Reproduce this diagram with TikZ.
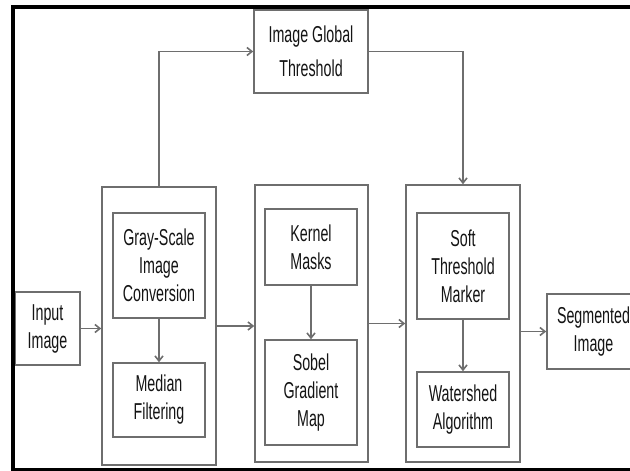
\documentclass[tikz,border=0pt]{standalone}
\usepackage{fontspec}
\setmainfont[FakeStretch=0.62]{Liberation Sans}
\usetikzlibrary{arrows.meta}
\definecolor{ln}{RGB}{110,110,110}
\definecolor{tx}{RGB}{20,20,20}
\begin{document}
\begin{tikzpicture}[x=1pt,y=-1pt,
  box/.style={draw=ln,line width=1.6pt,fill=white,inner sep=0pt,align=center,text=tx,
    font=\fontsize{23}{28}\selectfont},
  grp/.style={draw=ln,line width=1.6pt,fill=white,inner sep=0pt},
  arr/.style={draw=ln,line width=1.6pt,-{Straight Barb[length=5pt,width=8pt]}}]
\useasboundingbox (0,0) rectangle (630,471);
% groups
\node[grp,minimum width=114pt,minimum height=278pt] (g1) at (159,326) {};
\node[grp,minimum width=113pt,minimum height=277pt] (g2) at (311.5,323.5) {};
\node[grp,minimum width=114pt,minimum height=277pt] (g3) at (463,323.5) {};
% boxes
\node[box,minimum width=114pt,minimum height=83pt,font=\fontsize{23}{34}\selectfont] (glob) at (311,51.5) {Image Global\\Threshold};
\node[box,minimum width=65pt,minimum height=73pt] (inp) at (47.5,328.5) {Input\\Image};
\node[box,minimum width=92pt,minimum height=105pt] (gray) at (159,265.5) {Gray-Scale\\Image\\Conversion};
\node[box,minimum width=92pt,minimum height=74pt] (med) at (159,400) {Median\\Filtering};
\node[box,minimum width=92pt,minimum height=76pt] (ker) at (311,247) {Kernel\\Masks};
\node[box,minimum width=92pt,minimum height=105pt] (sob) at (311,392.5) {Sobel\\Gradient\\Map};
\node[box,minimum width=92pt,minimum height=106pt] (soft) at (463,266) {Soft\\Threshold\\Marker};
\node[box,minimum width=92pt,minimum height=75pt] (wat) at (463,409.5) {Watershed\\Algorithm};
\node[box,minimum width=93pt,minimum height=75pt] (seg) at (593.5,331.5) {Segmented\\Image};
% connectors
\draw[arr] (inp.east) -- (inp.east -| g1.west);
\draw[arr] (g1.east) -- (g1.east -| g2.west);
\draw[arr] (g2.east) -- (g2.east -| g3.west);
\draw[arr] (seg.west -| g3.east) -- (seg.west);
\draw[arr] (gray.south) -- (med.north);
\draw[arr] (ker.south) -- (sob.north);
\draw[arr] (soft.south) -- (wat.north);
\draw[arr] (g1.north) |- (glob.west);
\draw[arr] (glob.east) -| (g3.north);
% black frame
\draw[black,line width=4pt] (634,7) -- (12.5,7) -- (12.5,469.5) -- (634,469.5);
\end{tikzpicture}
\end{document}
